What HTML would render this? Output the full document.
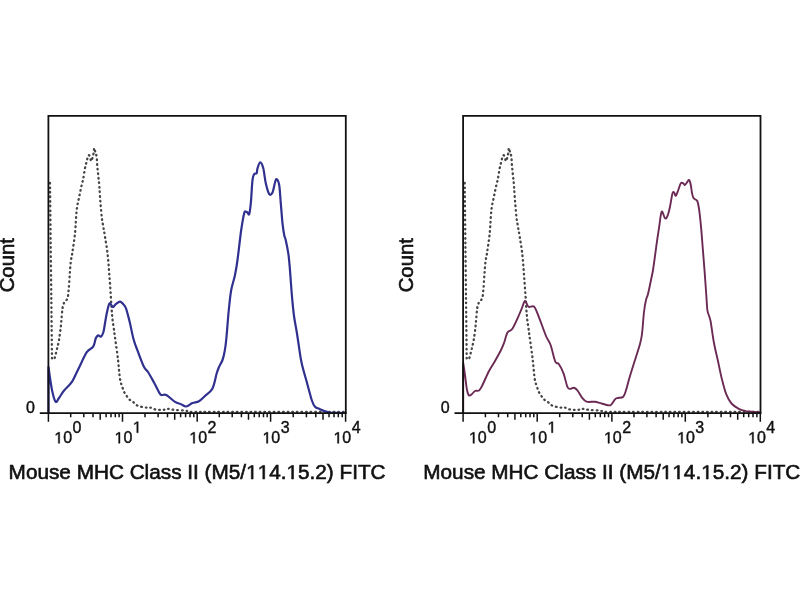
<!DOCTYPE html>
<html><head><meta charset="utf-8"><style>
html,body{margin:0;padding:0;background:#fff;width:800px;height:600px;overflow:hidden}
svg{display:block;will-change:transform}
text{font-family:"Liberation Sans",sans-serif;font-kerning:none;fill:#111;stroke:#111;stroke-width:0.4px}
.g{fill:#111;stroke:#111;stroke-width:0.4px}
.t text,.t .g{stroke-width:0.6px}
</style></head><body>
<svg width="800" height="600" viewBox="0 0 800 600">
<path d="M50.0,183.0C50.0,183.0 52.0,359.0 52.0,359.0C52.0,359.0 53.7,360.0 54.5,358.3C55.3,356.6 56.2,351.8 57.0,348.8C57.8,345.7 58.4,343.7 59.0,340.0C59.6,336.3 60.3,330.6 60.8,326.7C61.2,322.8 61.4,319.8 61.7,316.7C62.0,313.6 62.1,310.7 62.5,308.3C62.9,305.9 63.4,304.2 64.2,302.5C65.0,300.8 66.8,300.5 67.5,298.3C68.2,296.1 68.3,293.1 68.7,289.2C69.1,285.3 69.4,279.6 69.7,275.0C70.0,270.4 70.3,265.6 70.8,261.7C71.3,257.8 71.8,256.4 72.5,251.7C73.2,247.0 74.3,240.2 75.0,233.3C75.7,226.4 76.0,216.1 76.7,210.0C77.4,203.9 78.4,200.9 79.2,196.7C80.0,192.5 81.0,188.1 81.7,185.0C82.4,181.9 82.8,180.9 83.3,178.3C83.8,175.7 84.3,171.9 84.8,169.2C85.3,166.5 85.9,164.3 86.5,162.0C87.1,159.7 87.7,156.3 88.3,155.4C88.9,154.5 89.5,155.7 90.0,156.7C90.5,157.7 90.8,161.3 91.2,161.2C91.7,161.2 92.5,157.8 92.9,156.2C93.3,154.7 93.5,153.4 93.8,152.0C94.0,150.6 93.9,147.9 94.2,148.0C94.5,148.1 95.0,151.0 95.4,152.5C95.8,154.0 96.4,154.7 96.7,157.0C97.0,159.3 97.0,163.1 97.3,166.2C97.6,169.4 98.0,172.7 98.3,175.8C98.6,178.9 98.9,181.1 99.2,184.6C99.5,188.1 99.6,191.3 100.0,196.7C100.4,202.0 101.2,211.7 101.7,216.7C102.2,221.7 102.8,223.4 103.3,226.7C103.8,230.0 104.3,232.3 105.0,236.7C105.7,241.1 106.8,247.2 107.5,253.3C108.2,259.4 108.7,266.2 109.2,273.3C109.8,280.4 110.4,289.7 110.8,295.8C111.2,301.9 111.4,306.1 111.7,310.0C112.0,313.9 112.2,316.1 112.5,319.2C112.8,322.2 113.3,325.2 113.8,328.3C114.2,331.4 114.3,332.3 115.0,337.5C115.7,342.7 117.2,352.6 118.0,359.5C118.8,366.4 119.2,374.1 120.0,378.8C120.8,383.5 121.8,385.2 122.5,387.5C123.2,389.8 123.7,391.0 124.4,392.5C125.1,394.0 126.0,395.1 126.9,396.3C127.8,397.6 128.8,399.0 130.0,400.0C131.2,401.0 132.6,401.6 133.8,402.5C135.1,403.4 135.6,404.8 137.5,405.6C139.4,406.4 142.9,407.2 145.0,407.5C147.1,407.8 148.3,407.2 150.0,407.5C151.7,407.8 152.9,409.0 155.0,409.4C157.1,409.8 160.4,410.1 162.5,410.0C164.6,409.9 165.4,408.8 167.5,408.8C169.6,408.8 172.1,409.7 175.0,410.0C177.9,410.3 182.5,410.3 185.0,410.6C187.5,410.9 187.5,411.7 190.0,411.9C192.5,412.1 200.0,411.8 200.0,411.8C200.0,411.8 346.0,411.8 346.0,411.8" fill="none" stroke="#454545" stroke-width="2.3" stroke-dasharray="0.6 4.0" stroke-linecap="round" stroke-linejoin="round"/>
<path d="M48.5,413.0C48.5,413.0 48.5,367.0 48.5,367.0C48.5,367.0 50.8,384.2 52.0,390.0C53.2,395.8 54.4,400.4 55.6,401.7C56.8,403.0 57.6,399.8 59.0,398.0C60.4,396.2 61.7,393.4 63.9,390.7C66.1,388.0 69.7,385.3 72.1,381.6C74.5,377.9 76.0,373.6 78.5,368.7C81.0,363.8 84.3,355.9 86.8,352.2C89.2,348.5 91.7,349.0 93.2,346.7C94.7,344.4 95.0,340.2 95.8,338.3C96.6,336.4 97.5,335.7 98.3,335.4C99.1,335.1 100.0,337.2 100.8,336.7C101.6,336.2 102.6,334.7 103.3,332.5C104.0,330.3 104.4,326.8 105.0,323.3C105.6,319.8 106.3,315.0 107.1,311.7C107.9,308.4 108.6,304.1 109.6,303.3C110.6,302.5 111.9,307.0 112.9,307.1C113.9,307.2 114.6,305.1 115.8,304.2C117.0,303.3 118.8,301.7 120.0,301.7C121.2,301.7 122.3,303.2 123.3,304.2C124.3,305.2 125.0,306.1 125.8,307.9C126.6,309.7 127.2,312.4 127.9,315.0C128.6,317.6 129.1,319.4 130.0,323.3C130.9,327.2 132.3,334.4 133.3,338.3C134.3,342.2 134.3,341.9 136.0,346.5C137.7,351.1 141.5,361.8 143.5,366.0C145.5,370.2 146.2,369.2 148.0,372.0C149.8,374.8 152.0,378.9 154.0,382.5C156.0,386.1 158.6,391.7 160.0,393.8C161.4,395.9 161.4,394.8 162.5,395.0C163.6,395.2 164.2,393.9 166.3,395.0C168.4,396.1 172.6,400.4 175.0,401.9C177.4,403.4 179.1,403.4 181.0,404.2C182.9,405.0 184.3,406.7 186.2,406.5C188.1,406.3 190.4,404.0 192.5,403.1C194.6,402.2 196.9,402.4 199.0,401.2C201.1,400.0 202.8,398.1 205.0,396.0C207.2,393.9 210.6,392.2 212.5,388.5C214.4,384.8 215.5,377.5 216.5,374.0C217.5,370.5 217.8,369.8 218.8,367.5C219.8,365.2 221.5,362.6 222.5,360.0C223.5,357.4 223.9,355.3 224.5,352.0C225.1,348.7 225.5,347.0 226.2,340.0C227.0,333.0 227.9,318.3 228.8,310.0C229.6,301.7 230.2,295.8 231.2,290.0C232.3,284.2 234.0,280.0 235.0,275.0C236.0,270.0 236.5,267.5 237.5,260.0C238.5,252.5 240.1,237.8 241.2,230.0C242.4,222.2 243.4,216.4 244.2,213.3C245.0,210.2 245.2,211.8 245.8,211.7C246.4,211.6 246.9,212.1 247.5,212.5C248.1,212.9 248.6,215.7 249.2,214.2C249.8,212.7 250.2,209.0 250.8,203.3C251.4,197.6 251.9,184.8 252.5,180.0C253.1,175.2 253.5,175.3 254.2,174.2C254.9,173.1 256.1,174.3 256.7,173.3C257.2,172.3 256.9,170.1 257.5,168.3C258.1,166.5 259.2,162.3 260.2,162.3C261.2,162.3 262.4,164.8 263.3,168.3C264.2,171.8 264.8,179.0 265.8,183.3C266.8,187.6 268.1,192.7 269.2,194.2C270.3,195.7 271.5,194.4 272.5,192.5C273.5,190.6 274.3,184.7 275.0,182.5C275.7,180.3 276.0,178.8 276.7,179.2C277.4,179.6 278.5,181.0 279.2,185.0C279.9,189.0 280.2,196.9 280.8,203.3C281.4,209.7 281.9,218.0 282.5,223.3C283.1,228.6 283.7,232.2 284.2,235.0C284.7,237.8 285.0,236.9 285.7,240.0C286.4,243.1 287.6,248.9 288.3,253.3C289.0,257.8 289.2,261.6 289.7,266.7C290.1,271.8 290.6,278.4 291.0,284.0C291.4,289.6 291.8,294.7 292.3,300.0C292.8,305.3 293.3,310.7 294.0,316.0C294.7,321.3 295.8,326.3 296.7,331.7C297.6,337.1 298.4,343.0 299.2,348.3C300.0,353.6 300.4,357.7 301.7,363.3C302.9,368.9 305.0,375.6 306.7,381.7C308.4,387.8 310.3,395.8 311.7,400.0C313.1,404.2 313.6,405.2 315.0,406.7C316.4,408.2 318.3,408.4 320.0,409.2C321.7,410.0 323.3,410.8 325.0,411.3C326.7,411.9 330.0,412.5 330.0,412.5C330.0,412.5 346.0,413.0 346.0,413.0" fill="none" stroke="#30318f" stroke-width="2.2" stroke-linejoin="round"/>
<path d="M48.4,413.2 L48.4,115.8 L345.8,115.8 L345.8,413.2" fill="none" stroke="#111" stroke-width="1.8"/>
<line x1="39.8" y1="413.2" x2="346.7" y2="413.2" stroke="#111" stroke-width="1.8"/>
<path d="M48.4,413.2V421.8M70.7,413.2V417.3M83.8,413.2V417.3M93.0,413.2V417.3M100.2,413.2V419.7M106.1,413.2V417.3M111.0,413.2V417.3M115.3,413.2V417.3M119.1,413.2V417.3M122.5,413.2V421.8M145.0,413.2V417.3M158.1,413.2V417.3M167.5,413.2V417.3M174.7,413.2V419.7M180.6,413.2V417.3M185.6,413.2V417.3M190.0,413.2V417.3M193.8,413.2V417.3M197.2,413.2V421.8M219.3,413.2V417.3M232.2,413.2V417.3M241.4,413.2V417.3M248.5,413.2V419.7M254.3,413.2V417.3M259.2,413.2V417.3M263.5,413.2V417.3M267.2,413.2V417.3M270.6,413.2V421.8M293.2,413.2V417.3M306.4,413.2V417.3M315.8,413.2V417.3M323.0,413.2V419.7M329.0,413.2V417.3M334.0,413.2V417.3M338.3,413.2V417.3M342.2,413.2V417.3M345.6,413.2V421.8" stroke="#111" stroke-width="1.5" fill="none"/>
<path d="M464.7,183.0C464.7,183.0 466.7,359.0 466.7,359.0C466.7,359.0 468.4,360.0 469.2,358.3C470.0,356.6 470.9,351.8 471.7,348.8C472.4,345.7 473.1,343.7 473.7,340.0C474.3,336.3 475.1,330.6 475.5,326.7C475.9,322.8 476.1,319.8 476.4,316.7C476.7,313.6 476.8,310.7 477.2,308.3C477.6,305.9 478.1,304.2 478.9,302.5C479.7,300.8 481.4,300.5 482.2,298.3C482.9,296.1 483.0,293.1 483.4,289.2C483.8,285.3 484.0,279.6 484.4,275.0C484.8,270.4 485.0,265.6 485.5,261.7C486.0,257.8 486.5,256.4 487.2,251.7C487.9,247.0 489.0,240.2 489.7,233.3C490.4,226.4 490.7,216.1 491.4,210.0C492.1,203.9 493.1,200.9 493.9,196.7C494.7,192.5 495.7,188.1 496.4,185.0C497.1,181.9 497.5,180.9 498.0,178.3C498.5,175.7 499.0,171.9 499.5,169.2C500.0,166.5 500.6,164.3 501.2,162.0C501.8,159.7 502.4,156.3 503.0,155.4C503.6,154.5 504.2,155.7 504.7,156.7C505.2,157.7 505.5,161.3 505.9,161.2C506.4,161.2 507.2,157.8 507.6,156.2C508.0,154.7 508.2,153.4 508.4,152.0C508.7,150.6 508.6,147.9 508.9,148.0C509.2,148.1 509.7,151.0 510.1,152.5C510.5,154.0 511.1,154.7 511.4,157.0C511.7,159.3 511.7,163.1 512.0,166.2C512.3,169.4 512.7,172.7 513.0,175.8C513.3,178.9 513.6,181.1 513.9,184.6C514.2,188.1 514.3,191.3 514.7,196.7C515.1,202.0 515.9,211.7 516.4,216.7C516.9,221.7 517.5,223.4 518.0,226.7C518.5,230.0 519.0,232.3 519.7,236.7C520.4,241.1 521.5,247.2 522.2,253.3C522.9,259.4 523.4,266.2 523.9,273.3C524.4,280.4 525.1,289.7 525.5,295.8C525.9,301.9 526.1,306.1 526.4,310.0C526.7,313.9 526.9,316.1 527.2,319.2C527.5,322.2 528.0,325.2 528.5,328.3C528.9,331.4 529.0,332.3 529.7,337.5C530.4,342.7 531.9,352.6 532.7,359.5C533.5,366.4 534.0,374.1 534.7,378.8C535.5,383.5 536.5,385.2 537.2,387.5C537.9,389.8 538.4,391.0 539.1,392.5C539.8,394.0 540.7,395.1 541.6,396.3C542.5,397.6 543.6,399.0 544.7,400.0C545.9,401.0 547.2,401.6 548.5,402.5C549.8,403.4 550.3,404.8 552.2,405.6C554.1,406.4 557.6,407.2 559.7,407.5C561.8,407.8 563.0,407.2 564.7,407.5C566.4,407.8 567.6,409.0 569.7,409.4C571.8,409.8 575.1,410.1 577.2,410.0C579.3,409.9 580.1,408.8 582.2,408.8C584.3,408.8 586.8,409.7 589.7,410.0C592.6,410.3 597.2,410.3 599.7,410.6C602.2,410.9 602.2,411.7 604.7,411.9C607.2,412.1 614.7,411.8 614.7,411.8C614.7,411.8 760.7,411.8 760.7,411.8" fill="none" stroke="#454545" stroke-width="2.3" stroke-dasharray="0.6 4.0" stroke-linecap="round" stroke-linejoin="round"/>
<path d="M463.2,413.0C463.2,413.0 463.2,363.0 463.2,363.0C463.2,363.0 464.4,370.5 465.0,375.0C465.6,379.5 466.3,386.6 467.0,390.0C467.7,393.4 468.2,394.8 469.0,395.5C469.8,396.2 471.0,394.8 472.0,394.0C473.0,393.2 473.8,391.6 475.0,391.0C476.2,390.4 477.8,391.3 479.0,390.5C480.2,389.7 480.3,389.2 482.0,386.0C483.7,382.8 486.8,375.2 489.0,371.0C491.2,366.8 493.0,364.5 495.0,361.0C497.0,357.5 499.5,353.0 501.0,350.0C502.5,347.0 502.9,345.9 504.0,343.0C505.1,340.1 506.1,334.8 507.5,332.5C508.9,330.2 510.5,331.5 512.2,329.0C514.0,326.5 516.5,320.6 518.0,317.3C519.5,314.0 520.3,311.9 521.5,309.2C522.7,306.5 523.8,301.4 525.0,301.0C526.2,300.6 527.0,305.8 528.5,306.8C530.0,307.8 532.5,305.1 534.3,306.8C536.0,308.6 537.0,312.4 539.0,317.3C541.0,322.2 544.0,331.3 546.0,336.0C548.0,340.7 549.2,341.0 550.7,345.3C552.2,349.6 553.9,358.6 555.3,361.7C556.6,364.8 557.4,362.0 558.8,364.0C560.2,366.0 562.3,370.0 563.7,373.8C565.1,377.6 566.2,384.1 567.3,386.6C568.3,389.1 568.9,388.7 570.0,388.9C571.1,389.1 572.6,387.6 573.8,387.8C575.0,388.0 576.0,388.7 577.4,390.3C578.8,391.9 580.5,395.7 582.0,397.6C583.5,399.5 584.5,401.0 586.6,401.7C588.8,402.4 592.6,401.5 594.9,401.7C597.2,401.9 598.4,402.6 600.4,403.1C602.4,403.7 605.0,404.7 606.8,405.0C608.5,405.3 609.5,405.9 610.9,405.0C612.3,404.1 613.9,400.6 615.0,399.4C616.1,398.2 616.4,398.4 617.8,398.0C619.2,397.6 621.9,398.0 623.3,396.7C624.7,395.4 625.2,392.8 626.0,390.3C626.8,387.9 627.6,384.4 628.3,382.0C629.0,379.6 628.9,379.7 630.0,376.0C631.1,372.3 633.3,365.3 635.0,360.0C636.7,354.7 638.8,348.3 640.0,344.0C641.2,339.7 641.3,339.3 642.0,334.0C642.7,328.7 643.3,317.7 644.0,312.0C644.7,306.3 645.3,303.0 646.0,300.0C646.7,297.0 647.2,297.3 648.0,294.0C648.8,290.7 650.2,284.0 651.0,280.0C651.8,276.0 652.0,276.1 653.0,270.0C654.0,263.9 655.7,250.5 656.7,243.3C657.7,236.1 658.4,232.0 659.2,226.7C660.0,221.4 660.7,213.1 661.7,211.7C662.7,210.3 664.0,217.6 665.0,218.3C666.0,219.0 666.7,217.7 667.5,215.8C668.3,213.9 669.2,210.4 670.0,206.7C670.8,202.9 671.8,195.7 672.5,193.3C673.2,190.9 673.7,192.1 674.2,192.5C674.8,192.9 675.1,196.2 675.8,195.8C676.5,195.4 677.5,192.1 678.3,190.0C679.1,187.9 680.0,184.4 680.8,183.3C681.6,182.2 682.6,183.0 683.3,183.3C684.0,183.6 684.3,185.3 685.0,185.0C685.7,184.7 686.8,182.5 687.5,181.7C688.2,180.9 688.7,179.4 689.2,180.0C689.8,180.6 690.3,182.8 690.8,185.0C691.3,187.2 691.5,190.8 692.0,193.0C692.5,195.2 692.8,197.0 693.7,198.3C694.6,199.6 696.4,199.0 697.3,201.0C698.2,203.0 698.6,205.9 699.2,210.2C699.8,214.5 700.4,220.3 701.0,226.7C701.6,233.1 702.2,241.0 702.8,248.7C703.4,256.4 704.1,264.3 704.7,272.6C705.3,280.9 706.0,291.9 706.5,298.3C707.0,304.7 706.8,307.0 707.5,310.8C708.2,314.6 709.6,316.1 710.6,321.2C711.6,326.4 712.5,335.4 713.8,342.0C715.0,348.6 716.5,354.5 717.9,360.8C719.3,367.1 720.6,374.0 722.0,379.6C723.4,385.2 724.7,390.2 726.2,394.2C727.8,398.2 729.4,401.1 731.5,403.5C733.6,405.9 736.3,407.5 738.8,408.8C741.2,410.0 746.0,411.2 746.0,411.2C746.0,411.2 760.5,412.5 760.5,412.5" fill="none" stroke="#6b2a54" stroke-width="1.9" stroke-linejoin="round"/>
<path d="M463.1,413.2 L463.1,115.8 L760.5,115.8 L760.5,413.2" fill="none" stroke="#111" stroke-width="1.8"/>
<line x1="454.5" y1="413.2" x2="761.4" y2="413.2" stroke="#111" stroke-width="1.8"/>
<path d="M463.1,413.2V421.8M485.4,413.2V417.3M498.5,413.2V417.3M507.7,413.2V417.3M514.9,413.2V419.7M520.8,413.2V417.3M525.7,413.2V417.3M530.0,413.2V417.3M533.8,413.2V417.3M537.2,413.2V421.8M559.7,413.2V417.3M572.8,413.2V417.3M582.2,413.2V417.3M589.4,413.2V419.7M595.3,413.2V417.3M600.3,413.2V417.3M604.7,413.2V417.3M608.5,413.2V417.3M611.9,413.2V421.8M634.0,413.2V417.3M646.9,413.2V417.3M656.1,413.2V417.3M663.2,413.2V419.7M669.0,413.2V417.3M673.9,413.2V417.3M678.2,413.2V417.3M681.9,413.2V417.3M685.3,413.2V421.8M707.9,413.2V417.3M721.1,413.2V417.3M730.5,413.2V417.3M737.7,413.2V419.7M743.7,413.2V417.3M748.7,413.2V417.3M753.0,413.2V417.3M756.9,413.2V417.3M760.3,413.2V421.8" stroke="#111" stroke-width="1.5" fill="none"/>
<g class="lab">
<text x="54.26" y="443.30" font-size="16"> 0</text>
<path class="g" d="M58.28,443.30 L58.28,433.64 L55.80,435.41 L55.80,434.08 L58.40,432.29 L59.70,432.29 L59.70,443.30Z"/>
<text x="72.46" y="432.70" font-size="16">0</text>
<text x="114.56" y="443.30" font-size="16"> 0</text>
<path class="g" d="M118.58,443.30 L118.58,433.64 L116.10,435.41 L116.10,434.08 L118.70,432.29 L120.00,432.29 L120.00,443.30Z"/>
<text x="132.76" y="432.70" font-size="16"> </text>
<path class="g" d="M136.78,432.70 L136.78,423.04 L134.30,424.81 L134.30,423.48 L136.90,421.69 L138.20,421.69 L138.20,432.70Z"/>
<text x="189.26" y="443.30" font-size="16"> 0</text>
<path class="g" d="M193.28,443.30 L193.28,433.64 L190.80,435.41 L190.80,434.08 L193.40,432.29 L194.70,432.29 L194.70,443.30Z"/>
<text x="207.46" y="432.70" font-size="16">2</text>
<text x="262.46" y="443.30" font-size="16"> 0</text>
<path class="g" d="M266.48,443.30 L266.48,433.64 L264.00,435.41 L264.00,434.08 L266.60,432.29 L267.90,432.29 L267.90,443.30Z"/>
<text x="280.66" y="432.70" font-size="16">3</text>
<text x="333.46" y="443.30" font-size="16"> 0</text>
<path class="g" d="M337.48,443.30 L337.48,433.64 L335.00,435.41 L335.00,434.08 L337.60,432.29 L338.90,432.29 L338.90,443.30Z"/>
<text x="351.66" y="432.70" font-size="16">4</text>
<text x="26.0" y="413.0" font-size="16">0</text>
<g class="t"><text transform="translate(14.4,292.3) rotate(-90)" x="0" y="0" font-size="19.7" textLength="54.2" lengthAdjust="spacingAndGlyphs">Count</text></g>
<g class="t"><text x="8.60" y="479.00" font-size="19.7" textLength="377" lengthAdjust="spacingAndGlyphs">Mouse MHC Class II (M5/  4. 5.2) FITC</text>
<path class="g" d="M251.29,479.00 L251.29,467.10 L248.07,469.28 L248.07,467.65 L251.44,465.45 L253.13,465.45 L253.13,479.00Z"/>
<path class="g" d="M262.83,479.00 L262.83,467.10 L259.61,469.28 L259.61,467.65 L262.98,465.45 L264.66,465.45 L264.66,479.00Z"/>
<path class="g" d="M291.67,479.00 L291.67,467.10 L288.45,469.28 L288.45,467.65 L291.82,465.45 L293.51,465.45 L293.51,479.00Z"/></g>
<text x="468.96" y="443.30" font-size="16"> 0</text>
<path class="g" d="M472.98,443.30 L472.98,433.64 L470.50,435.41 L470.50,434.08 L473.10,432.29 L474.40,432.29 L474.40,443.30Z"/>
<text x="487.16" y="432.70" font-size="16">0</text>
<text x="529.26" y="443.30" font-size="16"> 0</text>
<path class="g" d="M533.28,443.30 L533.28,433.64 L530.80,435.41 L530.80,434.08 L533.40,432.29 L534.70,432.29 L534.70,443.30Z"/>
<text x="547.46" y="432.70" font-size="16"> </text>
<path class="g" d="M551.48,432.70 L551.48,423.04 L549.00,424.81 L549.00,423.48 L551.60,421.69 L552.90,421.69 L552.90,432.70Z"/>
<text x="603.96" y="443.30" font-size="16"> 0</text>
<path class="g" d="M607.98,443.30 L607.98,433.64 L605.50,435.41 L605.50,434.08 L608.10,432.29 L609.40,432.29 L609.40,443.30Z"/>
<text x="622.16" y="432.70" font-size="16">2</text>
<text x="677.16" y="443.30" font-size="16"> 0</text>
<path class="g" d="M681.18,443.30 L681.18,433.64 L678.70,435.41 L678.70,434.08 L681.30,432.29 L682.60,432.29 L682.60,443.30Z"/>
<text x="695.36" y="432.70" font-size="16">3</text>
<text x="748.16" y="443.30" font-size="16"> 0</text>
<path class="g" d="M752.18,443.30 L752.18,433.64 L749.70,435.41 L749.70,434.08 L752.30,432.29 L753.60,432.29 L753.60,443.30Z"/>
<text x="766.36" y="432.70" font-size="16">4</text>
<text x="440.7" y="413.0" font-size="16">0</text>
<g class="t"><text transform="translate(413.4,292.3) rotate(-90)" x="0" y="0" font-size="19.7" textLength="54.2" lengthAdjust="spacingAndGlyphs">Count</text></g>
<g class="t"><text x="423.30" y="479.00" font-size="19.7" textLength="377" lengthAdjust="spacingAndGlyphs">Mouse MHC Class II (M5/  4. 5.2) FITC</text>
<path class="g" d="M665.99,479.00 L665.99,467.10 L662.77,469.28 L662.77,467.65 L666.14,465.45 L667.83,465.45 L667.83,479.00Z"/>
<path class="g" d="M677.53,479.00 L677.53,467.10 L674.31,469.28 L674.31,467.65 L677.68,465.45 L679.36,465.45 L679.36,479.00Z"/>
<path class="g" d="M706.37,479.00 L706.37,467.10 L703.15,469.28 L703.15,467.65 L706.52,465.45 L708.21,465.45 L708.21,479.00Z"/></g>
</g>
</svg>
</body></html>
